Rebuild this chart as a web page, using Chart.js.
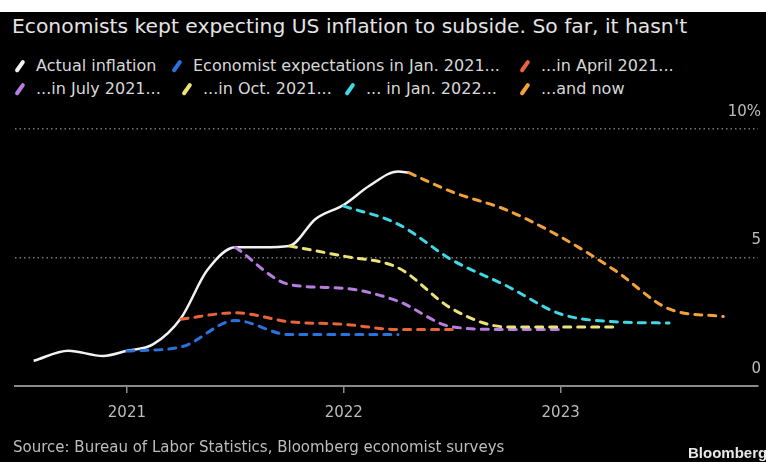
<!DOCTYPE html>
<html>
<head>
<meta charset="utf-8">
<script src="https://cdn.jsdelivr.net/npm/chart.js@4.4.0/dist/chart.umd.min.js"></script>
<style>
  body { margin: 0; width: 766px; height: 462px; background: #000; overflow: hidden; position: relative;
         font-family: "DejaVu Sans", sans-serif; }
  #topbar { position: absolute; left: 0; top: 0; width: 766px; height: 12px; background: #fff; }
  #title { position: absolute; left: 12px; top: 13px; font-size: 20.3px; line-height: 26px; color: #e4e4e4; white-space: nowrap; }
  .item { position: absolute; display: flex; align-items: center; font-size: 16px; line-height: 20px; color: #d8d8d8; white-space: nowrap; }
  .sw { display: inline-block; width: 10px; height: 14px; position: relative; margin-right: 11px; }
  .sw i { position: absolute; left: 3px; top: 0; width: 3.5px; height: 14px; border-radius: 2px; transform: rotate(35deg); }
  #chartBox { position: absolute; left: 0; top: 100px; width: 766px; height: 340px; }
  #source { position: absolute; left: 13px; top: 437px; font-size: 15px; line-height: 20px; color: #bdbdbd; white-space: nowrap; }
  #logo { position: absolute; left: 688px; top: 443px; font-size: 15px; line-height: 20px; font-weight: bold; color: #e8e8e8; font-family: "Liberation Sans", Arial, sans-serif; }
</style>
</head>
<body>
<div id="topbar"></div>
<div id="title">Economists kept expecting US inflation to subside. So far, it hasn't</div>
<div id="chartBox"><canvas id="chart" width="766" height="340"></canvas></div>
<div id="source">Source: Bureau of Labor Statistics, Bloomberg economist surveys</div>
<div id="logo">Bloomberg</div>

<script>
// Series names and colours
const seriesNames = ['Actual inflation', 'Economist expectations in Jan. 2021...', '...in April 2021...',
  '...in July 2021...', '...in Oct. 2021...', '... in Jan. 2022...', '...and now'];
const seriesColors = ['#f2f2f2', '#2a72dc', '#e8643a', '#b57ee0', '#ece27a', '#3fd8e4', '#f2a23a'];

// Dates as decimal years, values in %
const actualDates  = [2020.57, 2020.73, 2020.89, 2021.0, 2021.12, 2021.25, 2021.37, 2021.5, 2021.62, 2021.75, 2021.87, 2022.0, 2022.12, 2022.25, 2022.3];
const actualValues = [0.98, 1.37, 1.17, 1.37, 1.62, 2.65, 4.5, 5.4, 5.4, 5.45, 6.5, 7.05, 7.8, 8.35, 8.3];

const jan21Dates  = [2021.0, 2021.25, 2021.5, 2021.75, 2022.0, 2022.25];
const jan21Values = [1.36, 1.52, 2.55, 2.0, 2.0, 2.0];

const apr21Dates  = [2021.25, 2021.5, 2021.75, 2022.0, 2022.25, 2022.5];
const apr21Values = [2.6, 2.85, 2.5, 2.4, 2.2, 2.2];

const jul21Dates  = [2021.5, 2021.75, 2022.0, 2022.25, 2022.5, 2022.75, 2023.0];
const jul21Values = [5.4, 3.95, 3.8, 3.3, 2.3, 2.2, 2.2];

const oct21Dates  = [2021.75, 2022.0, 2022.25, 2022.5, 2022.75, 2023.0, 2023.25];
const oct21Values = [5.45, 5.05, 4.6, 3.0, 2.3, 2.3, 2.3];

const jan22Dates  = [2022.0, 2022.25, 2022.5, 2022.75, 2023.0, 2023.25, 2023.5];
const jan22Values = [7.0, 6.3, 4.9, 3.9, 2.8, 2.5, 2.45];

const nowDates  = [2022.3, 2022.5, 2022.75, 2023.0, 2023.25, 2023.5, 2023.75];
const nowValues = [8.3, 7.55, 6.85, 5.8, 4.5, 3.0, 2.7];

const xTicks = [2021, 2022, 2023];
const yTicks = [0, 5, 10];

const FONT = '"DejaVu Sans", sans-serif';

// Legend in two rows (left edge of each swatch, top of the row)
const legendSpots = [[15, 56], [172, 56], [520, 56], [15, 79], [182, 79], [345, 79], [520, 79]];
seriesNames.forEach((name, i) => {
  const item = document.createElement('div');
  item.className = 'item';
  item.style.left = legendSpots[i][0] + 'px';
  item.style.top = legendSpots[i][1] + 'px';
  item.innerHTML = `<span class="sw"><i style="background:${seriesColors[i]}"></i></span><span>${name}</span>`;
  document.body.appendChild(item);
});

function pts(dates, values) {
  return dates.map((d, i) => ({ x: d, y: values[i] }));
}

const allSeries = [
  [actualDates, actualValues], [jan21Dates, jan21Values], [apr21Dates, apr21Values],
  [jul21Dates, jul21Values], [oct21Dates, oct21Values], [jan22Dates, jan22Values], [nowDates, nowValues]
];

const datasets = allSeries.map(([d, v], i) => ({
  label: seriesNames[i],
  data: pts(d, v),
  borderColor: seriesColors[i],
  borderWidth: i === 0 ? 2.5 : 3,
  borderDash: i === 0 ? [] : [7, 7],
  borderCapStyle: i === 0 ? 'butt' : 'round',
  pointRadius: 0,
  cubicInterpolationMode: 'monotone',
  fill: false,
  order: i === 0 ? 10 : 8 - i
}));

new Chart(document.getElementById('chart'), {
  type: 'line',
  data: { datasets },
  options: {
    responsive: false,
    animation: false,
    layout: { padding: { left: 15, right: 2, top: 29, bottom: 7 } },
    plugins: { legend: { display: false }, tooltip: { enabled: false } },
    scales: {
      x: {
        type: 'linear', min: 2020.484, max: 2023.91,
        afterBuildTicks: axis => { axis.ticks = xTicks.map(v => ({ value: v })); },
        ticks: { color: '#bdbdbd', font: { family: FONT, size: 15 }, padding: 11, callback: v => String(v) },
        grid: { drawOnChartArea: false, drawTicks: true, tickLength: 7, color: '#8a8a8a', lineWidth: 1.5 },
        border: { display: true, color: '#8a8a8a', width: 2 }
      },
      y: {
        position: 'right', min: 0, max: 10,
        afterBuildTicks: axis => { axis.ticks = yTicks.map(v => ({ value: v })); },
        ticks: { mirror: true, padding: 3, labelOffset: -17, color: '#bdbdbd', font: { family: FONT, size: 15 },
                 callback: v => v === 10 ? '10%' : String(v) },
        grid: { drawTicks: false, lineWidth: 1.5, color: c => c.tick && c.tick.value === 0 ? 'rgba(0,0,0,0)' : '#777' },
        border: { display: false, dash: [1.5, 3] }
      }
    }
  }
});
</script>
</body>
</html>
